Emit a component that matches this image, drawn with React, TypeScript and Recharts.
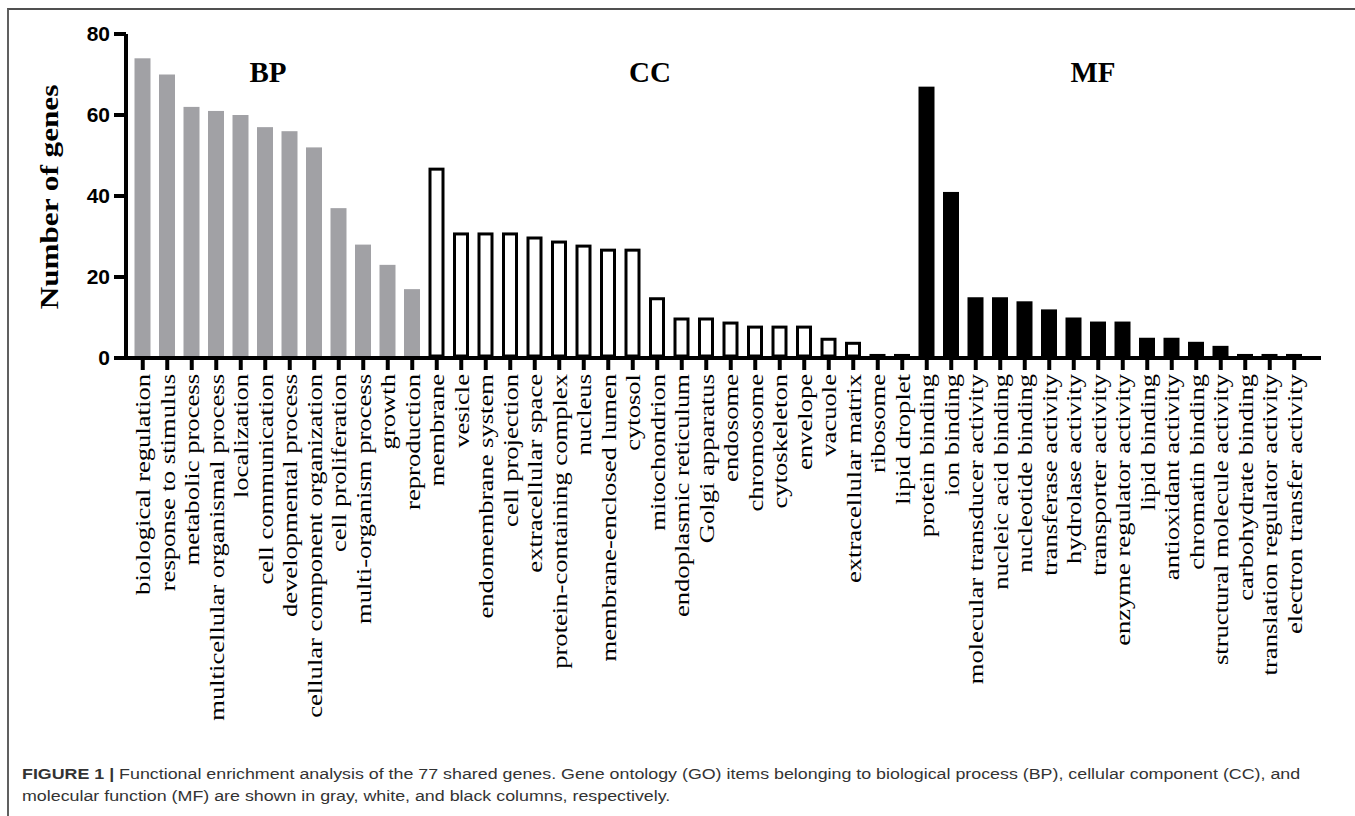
import React from 'react';
import { BarChart, Bar, XAxis, YAxis } from 'recharts';

// GO categories, counts
const bpNames = [
  'biological regulation',
  'response to stimulus',
  'metabolic process',
  'multicellular organismal process',
  'localization',
  'cell communication',
  'developmental process',
  'cellular component organization',
  'cell proliferation',
  'multi-organism process',
  'growth',
  'reproduction',
];
const bpValues = [74, 70, 62, 61, 60, 57, 56, 52, 37, 28, 23, 17];

const ccNames = [
  'membrane',
  'vesicle',
  'endomembrane system',
  'cell projection',
  'extracellular space',
  'protein-containing complex',
  'nucleus',
  'membrane-enclosed lumen',
  'cytosol',
  'mitochondrion',
  'endoplasmic reticulum',
  'Golgi apparatus',
  'endosome',
  'chromosome',
  'cytoskeleton',
  'envelope',
  'vacuole',
  'extracellular matrix',
  'ribosome',
  'lipid droplet',
];
const ccValues = [47, 31, 31, 31, 30, 29, 28, 27, 27, 15, 10, 10, 9, 8, 8, 8, 5, 4, 1, 1];

const mfNames = [
  'protein binding',
  'ion binding',
  'molecular transducer activity',
  'nucleic acid binding',
  'nucleotide binding',
  'transferase activity',
  'hydrolase activity',
  'transporter activity',
  'enzyme regulator activity',
  'lipid binding',
  'antioxidant activity',
  'chromatin binding',
  'structural molecule activity',
  'carbohydrate binding',
  'translation regulator activity',
  'electron transfer activity',
];
const mfValues = [67, 41, 15, 15, 14, 12, 10, 9, 9, 5, 5, 4, 3, 1, 1, 1];

const yTicks = [0, 20, 40, 60, 80];

const data = [
  ...bpNames.map((name, i) => ({ name, value: bpValues[i], group: 'BP' })),
  ...ccNames.map((name, i) => ({ name, value: ccValues[i], group: 'CC' })),
  ...mfNames.map((name, i) => ({ name, value: mfValues[i], group: 'MF' })),
];

const SERIF = '"Liberation Serif", "Times New Roman", Times, serif';
const SANS = '"Liberation Sans", Arial, Helvetica, sans-serif';
const GRAY = '#a1a1a5';

// bars stop at the top of the thick axis line so it stays solid black
const GoBar = (props: any) => {
  const { x, y, width, height, payload } = props;
  const h = Math.max(height - 2, 0);
  if (payload.group === 'CC') {
    const sw = 3;
    return (
      <rect
        x={x + sw / 2}
        y={y + sw / 2}
        width={width - sw}
        height={Math.max(h - sw / 2, 0.5)}
        fill="#fff"
        stroke="#000"
        strokeWidth={sw}
      />
    );
  }
  return <rect x={x} y={y} width={width} height={h} fill={payload.group === 'BP' ? GRAY : '#000'} />;
};

const RotatedTick = (props: any) => {
  const { x, y, payload } = props;
  return (
    <g transform={`translate(${x},${y}) rotate(-90) scale(1.21,1)`}>
      <text x={0} y={0} dy="0.34em" textAnchor="end" fontFamily={SERIF} fontSize={22} fill="#000">
        {payload.value}
      </text>
    </g>
  );
};

export default function App() {
  return (
    <div style={{ position: 'absolute', top: 0, left: 0, width: 1355, height: 816, background: '#fff', overflow: 'hidden' }}>
      {/* figure frame */}
      <div
        style={{
          position: 'absolute',
          left: 7,
          top: 8,
          right: 0,
          bottom: 0,
          borderTop: '2px solid #505050',
          borderLeft: '2px solid #606060',
        }}
      />

      <div style={{ position: 'absolute', left: 0, top: 0 }}>
        <BarChart width={1355} height={750} data={data} margin={{ top: 34, right: 34, left: 0, bottom: 0 }} barSize={16}>
          <XAxis
            dataKey="name"
            interval={0}
            height={392}
            padding={{ left: 4.5, right: 14.5 }}
            tickSize={12}
            tickMargin={4}
            axisLine={{ stroke: '#000', strokeWidth: 4 }}
            tickLine={{ stroke: '#000', strokeWidth: 4 }}
            tick={<RotatedTick />}
          />
          <YAxis
            width={126}
            domain={[0, 80]}
            ticks={yTicks}
            tickSize={12}
            tickMargin={4}
            axisLine={{ stroke: '#000', strokeWidth: 4 }}
            tickLine={{ stroke: '#000', strokeWidth: 4 }}
            tick={{ fontSize: 21, fontWeight: 700, fontFamily: SANS, fill: '#000' }}
          />
          <Bar dataKey="value" shape={<GoBar />} isAnimationActive={false} />
        </BarChart>
      </div>

      {/* axis title and group labels */}
      <svg width={1355} height={816} style={{ position: 'absolute', left: 0, top: 0, pointerEvents: 'none' }}>
        <g transform="translate(58,197) rotate(-90) scale(1.2,1)">
          <text x={0} y={0} textAnchor="middle" fontFamily={SERIF} fontWeight={700} fontSize={26} fill="#000">
            Number of genes
          </text>
        </g>
        <text x={268} y={82} textAnchor="middle" fontFamily={SERIF} fontWeight={700} fontSize={29} fill="#000">BP</text>
        <text x={650} y={82} textAnchor="middle" fontFamily={SERIF} fontWeight={700} fontSize={29} fill="#000">CC</text>
        <text x={1093} y={82} textAnchor="middle" fontFamily={SERIF} fontWeight={700} fontSize={29} fill="#000">MF</text>
      </svg>

      {/* caption */}
      <div
        style={{
          position: 'absolute',
          left: 22,
          top: 763,
          fontFamily: SANS,
          fontSize: 15.5,
          lineHeight: '22px',
          color: '#333',
          whiteSpace: 'nowrap',
          transform: 'scaleX(1.15)',
          transformOrigin: 'left top',
        }}
      >
        <b>FIGURE 1 |</b> Functional enrichment analysis of the 77 shared genes. Gene ontology (GO) items belonging to
        biological process (BP), cellular component (CC), and
        <br />
        molecular function (MF) are shown in gray, white, and black columns, respectively.
      </div>
    </div>
  );
}
